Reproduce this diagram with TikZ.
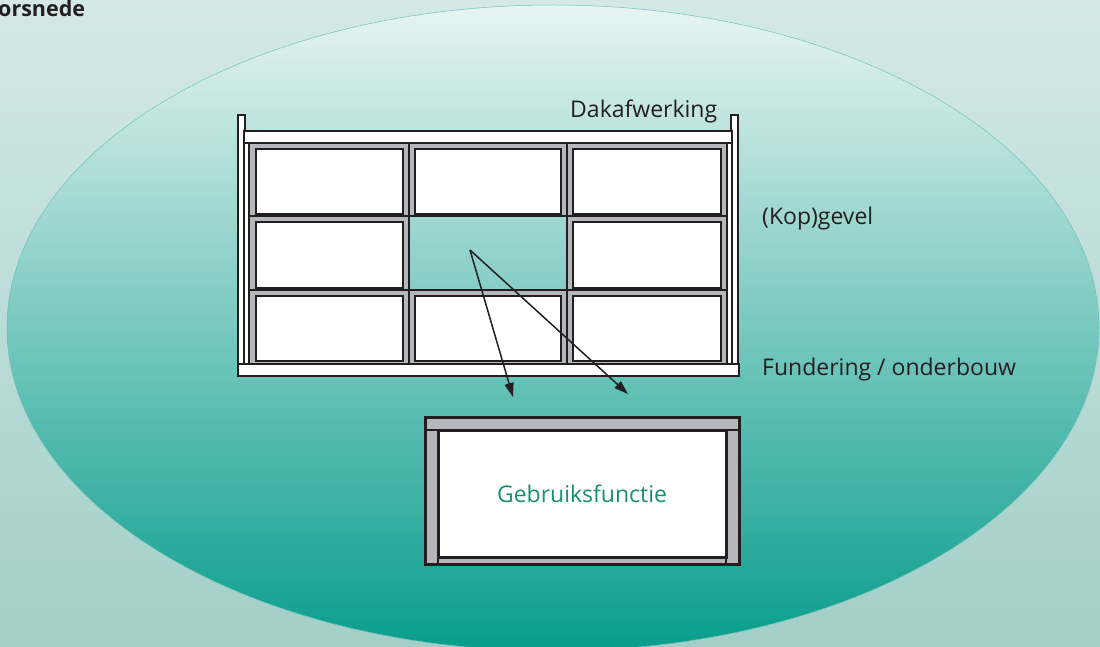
\documentclass[tikz,border=0pt]{standalone}
\usepackage{fontspec}
\setmainfont{Open Sans}
\usetikzlibrary{arrows.meta}
\definecolor{ink}{HTML}{231F20}
\definecolor{barfill}{HTML}{B6B7BB}
\definecolor{bgtop}{HTML}{D4E9E6}
\definecolor{bgbot}{HTML}{A2CFC8}
\definecolor{elltop}{HTML}{E8F4F2}
\definecolor{ellmid}{HTML}{8ECAC1}
\definecolor{ellbot}{HTML}{089D8C}
\definecolor{ellline}{HTML}{6CC2B8}
\definecolor{usegreen}{HTML}{178F70}
\tikzset{
  framebar/.style={fill=barfill, draw=ink, line width=1.6pt},
  pane/.style={fill=white, draw=ink, line width=2.3pt},
  plank/.style={fill=white, draw=ink, line width=1.6pt},
  label/.style={font=\fontsize{23}{28}\selectfont, text=ink, inner sep=0pt},
  arr/.style={draw=ink, line width=1.5pt, -{Triangle[length=14pt,width=9pt]}},
}
\begin{document}
\begin{tikzpicture}[x=1pt,y=-1pt]
\useasboundingbox (0,0) rectangle (1100,647);
% background and oval
\shade[top color=bgtop, bottom color=bgbot] (0,0) rectangle (1100,647);
\shade[top color=elltop, middle color=ellmid, bottom color=ellbot]
  (553,328) ellipse [x radius=546, y radius=323];
\draw[ellline, line width=0.5pt] (553,328) ellipse [x radius=546, y radius=323];

% title, cut at the left edge
\node[font=\bfseries\fontsize{21.5}{26}\selectfont, text=ink, inner sep=0pt, anchor=base west]
  (title) at (-2,17) {orsnede};

% posts, roof, side strips, foundation
\filldraw[plank] (238,115) rectangle (245,365);
\filldraw[plank] (731,115) rectangle (738,365);
\filldraw[plank] (244,131) rectangle (732,143);
\filldraw[plank] (244,143) rectangle (249,364);
\filldraw[plank] (727,143) rectangle (732,364);

% framed panes of the facade
\foreach \xo/\xp/\xa/\xb/\c in {249/409/256/403/1, 409/567/415/561/2, 567/727/573/721/3}{
  \foreach \yo/\yp/\ya/\yb/\r in {143/216/149/214/1, 216/290/222/288/2, 290/364/296/361/3}{
    \ifnum\c\r=22\else
      \filldraw[framebar] (\xo,\yo) rectangle (\xp,\yp);
      \filldraw[pane] (\xa,\ya) rectangle (\xb,\yb);
    \fi
  }
}
\filldraw[plank] (238,364) rectangle (739,376);

% labels
\node[label, anchor=base west] (roof) at (570,118) {Dakafwerking};
\node[label, anchor=base west] (wall) at (762,225) {(Kop)gevel};
\node[label, anchor=base west] (base) at (762,375) {Fundering / onderbouw};

% unit of use
\filldraw[framebar, line width=3pt] (425,417) rectangle (739,564);
\draw[ink, line width=2.5pt] (425,430) -- (739,430);
\draw[ink, line width=2.5pt] (438,430) -- (438,564);
\draw[ink, line width=2.5pt] (726,430) -- (726,564);
\node[pane, line width=3pt, minimum width=288pt, minimum height=127pt, inner sep=0pt,
  font=\fontsize{23}{28}\selectfont, text=usegreen] (use) at (582,493.5) {Gebruiksfunctie};

% arrows
\coordinate (src) at (470,250);
\coordinate (tipA) at (513,397);
\coordinate (tipB) at (628,394);
\draw[arr] (src) -- (tipA);
\draw[arr] (src) -- (tipB);
\end{tikzpicture}
\end{document}
